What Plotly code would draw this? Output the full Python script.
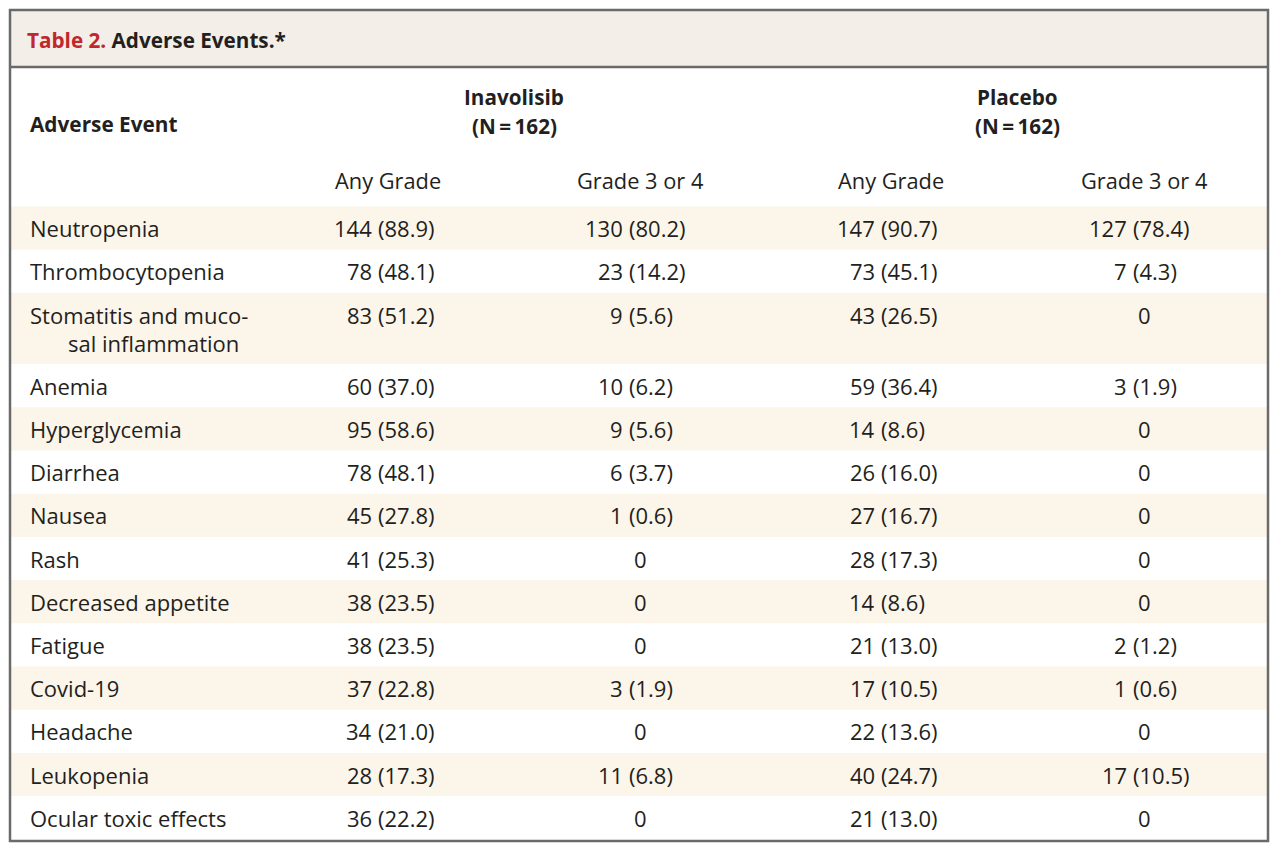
import plotly.graph_objects as go

# ---------------- data ----------------
title_num = "Table 2."
title_text = "Adverse Events.*"
stub_header = "Adverse Event"
groups = ["Inavolisib", "Placebo"]
group_n = [162, 162]
sub_headers = ["Any Grade", "Grade 3 or 4", "Any Grade", "Grade 3 or 4"]

events = ["Neutropenia", "Thrombocytopenia", "Stomatitis and muco-\nsal inflammation",
          "Anemia", "Hyperglycemia", "Diarrhea", "Nausea", "Rash", "Decreased appetite",
          "Fatigue", "Covid-19", "Headache", "Leukopenia", "Ocular toxic effects"]

inav_any = [144, 78, 83, 60, 95, 78, 45, 41, 38, 38, 37, 34, 28, 36]
inav_any_pct = [88.9, 48.1, 51.2, 37.0, 58.6, 48.1, 27.8, 25.3, 23.5, 23.5, 22.8, 21.0, 17.3, 22.2]
inav_g34 = [130, 23, 9, 10, 9, 6, 1, 0, 0, 0, 3, 0, 11, 0]
inav_g34_pct = [80.2, 14.2, 5.6, 6.2, 5.6, 3.7, 0.6, None, None, None, 1.9, None, 6.8, None]
plac_any = [147, 73, 43, 59, 14, 26, 27, 28, 14, 21, 17, 22, 40, 21]
plac_any_pct = [90.7, 45.1, 26.5, 36.4, 8.6, 16.0, 16.7, 17.3, 8.6, 13.0, 10.5, 13.6, 24.7, 13.0]
plac_g34 = [127, 7, 0, 3, 0, 0, 0, 0, 0, 2, 1, 0, 17, 0]
plac_g34_pct = [78.4, 4.3, None, 1.9, None, None, None, None, None, 1.2, 0.6, None, 10.5, None]

columns = [(inav_any, inav_any_pct), (inav_g34, inav_g34_pct),
           (plac_any, plac_any_pct), (plac_g34, plac_g34_pct)]

# ---------------- layout constants ----------------
W, H = 1280, 854
LEFT, RIGHT, TOP, BOTTOM = 10, 1268, 10, 841
TITLE_BOTTOM = 67
ROW_TOP = 206.5
ROW_H = 43.2
LINE_H = 28
col_centers = [388, 640, 891, 1144]
col_anchor = [372, 623, 875, 1127]   # right edge of the count

FONT = "Open Sans"
BODY = 22
TXT = "#231f20"
BORDER = "#6a6a6a"
SHADE = "#fcf5ea"
TITLE_BG = "#f3eee8"
RED = "#c1272d"

fig = go.Figure()
shapes = []
ann = []

def text(x, y, s, size=BODY, anchor="left", bold=False, color=TXT, family=FONT):
    ann.append(dict(x=x, y=y, xref="x", yref="y", text=s, showarrow=False,
                    xanchor=anchor, yanchor="middle", borderpad=0, borderwidth=0,
                    font=dict(family=family, size=size, color=color,
                              weight="bold" if bold else "normal")))

# title band
shapes.append(dict(type="rect", xref="x", yref="y", x0=LEFT, x1=RIGHT, y0=TOP, y1=TITLE_BOTTOM,
                   fillcolor=TITLE_BG, line=dict(width=0), layer="below"))
ann.append(dict(x=27, y=40, xref="x", yref="y", showarrow=False, xanchor="left", yanchor="middle",
                borderpad=0, borderwidth=0,
                text=f"<span style='color:{RED}'>{title_num}</span> {title_text}",
                font=dict(family=FONT, size=20.7, color=TXT, weight="bold")))

# headers
text(30, 124, stub_header, size=20.8, bold=True)
for gi, g in enumerate(groups):
    cx = (col_centers[2 * gi] + col_centers[2 * gi + 1]) / 2
    text(cx, 97, g, size=20.7, bold=True, anchor="center")
    text(cx, 126, f"(N\u2009=\u2009{group_n[gi]})", size=20.7, bold=True, anchor="center")
for ci, sh in enumerate(sub_headers):
    text(col_centers[ci], 180, sh, size=21.8, anchor="center")

# rows
y = ROW_TOP
for ri, ev in enumerate(events):
    lines = ev.split("\n")
    h = ROW_H + LINE_H * (len(lines) - 1)
    if ri % 2 == 0:
        shapes.append(dict(type="rect", xref="x", yref="y", x0=LEFT, x1=RIGHT, y0=y, y1=y + h,
                           fillcolor=SHADE, line=dict(width=0), layer="below"))
    yc = y + ROW_H / 2
    for li, ln in enumerate(lines):
        text(30 if li == 0 else 68, yc + li * LINE_H, ln)
    for ci, (cnt, pct) in enumerate(columns):
        n = cnt[ri]
        p = pct[ri]
        if p is None:
            text(col_centers[ci], yc, f"{n}", anchor="center")
        else:
            text(col_anchor[ci], yc, f"{n}", anchor="right")
            text(col_anchor[ci] + 6, yc, f"({p:.1f})", anchor="left")
    y += h

# borders
shapes.append(dict(type="line", xref="x", yref="y", x0=LEFT, x1=RIGHT, y0=TITLE_BOTTOM, y1=TITLE_BOTTOM,
                   line=dict(color=BORDER, width=2.5)))
shapes.append(dict(type="rect", xref="x", yref="y", x0=LEFT, x1=RIGHT, y0=TOP, y1=BOTTOM,
                   line=dict(color=BORDER, width=2.5), fillcolor="rgba(0,0,0,0)"))

fig.update_layout(
    width=W, height=H, margin=dict(l=0, r=0, t=0, b=0),
    paper_bgcolor="white", plot_bgcolor="white",
    xaxis=dict(range=[0, W], visible=False, fixedrange=True),
    yaxis=dict(range=[H, 0], visible=False, fixedrange=True),
    shapes=shapes, annotations=ann, showlegend=False,
)
fig.write_html("out.html", config={"displayModeBar": False},
               post_script="document.body.style.margin='0';document.body.style.overflow='hidden';")
